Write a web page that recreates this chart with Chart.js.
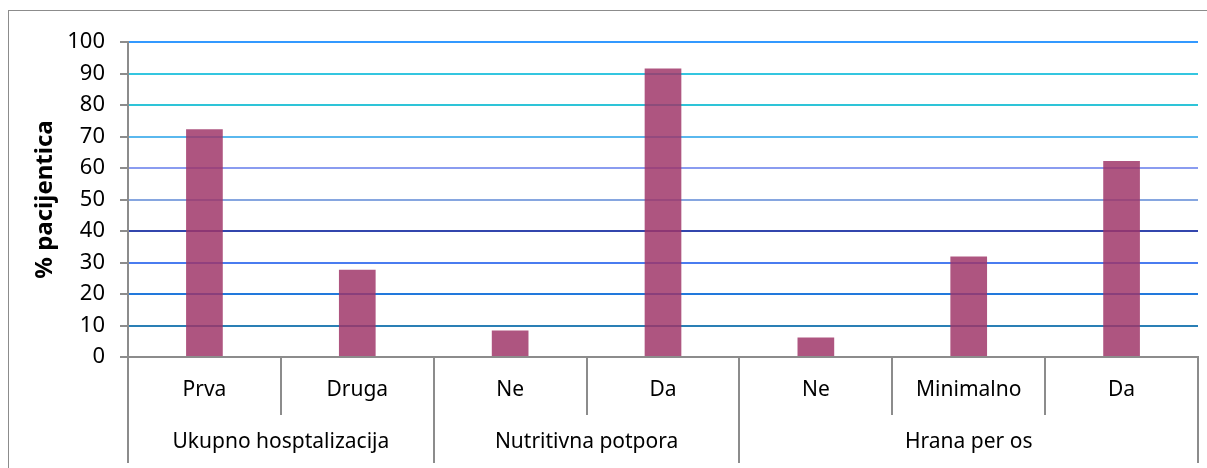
<!DOCTYPE html>
<html>
<head>
<meta charset="utf-8">
<script src="https://cdn.jsdelivr.net/npm/chart.js@4/dist/chart.umd.min.js"></script>
<style>
  html, body { margin: 0; padding: 0; background: #fff; overflow: hidden; }
  #wrap { position: relative; width: 1207px; height: 468px; }
  #frame { position: absolute; left: 8px; top: 10px; width: 1300px; height: 500px;
           border: 1px solid #8c8c8c; pointer-events: none; }
  canvas { position: absolute; left: 0; top: 0; }
</style>
</head>
<body>
<div id="wrap">
  <canvas id="chart" width="1207" height="468"></canvas>
  <div id="frame"></div>
</div>
<script>
const categories = ["Prva", "Druga", "Ne", "Da", "Ne", "Minimalno", "Da"];
const groups = ["Ukupno hosptalizacija", "Nutritivna potpora", "Hrana per os"];
const groupSizes = [2, 2, 3];
const values = [72.3, 27.7, 8.4, 91.6, 6.2, 31.9, 62.2];
const yTicks = [0, 10, 20, 30, 40, 50, 60, 70, 80, 90, 100];

const gridColors = {
  0: "#8c8c8c", 10: "#2a7fb5", 20: "#2279dc", 30: "#4a7cf0", 40: "#3346ad",
  50: "#86a6e0", 60: "#8a9cf0", 70: "#5ab8ee", 80: "#2ec4d8", 90: "#34c6e0", 100: "#3399ff"
};

const FONT = "'Noto Sans', sans-serif";

// draws category dividers and the group row under the x axis
const groupAxis = {
  id: "groupAxis",
  afterDraw(chart) {
    const x = chart.scales.x;
    const ctx = chart.ctx;
    const area = chart.chartArea;
    const step = x.getPixelForValue(1) - x.getPixelForValue(0);
    const edge = i => x.getPixelForValue(i) - step / 2;
    ctx.save();
    ctx.strokeStyle = "#8c8c8c";
    ctx.lineWidth = 2;
    const groupEdges = [0];
    groupSizes.forEach(n => groupEdges.push(groupEdges[groupEdges.length - 1] + n));
    for (let i = 0; i <= categories.length; i++) {
      const px = Math.round(edge(i));
      const bottom = groupEdges.includes(i) ? area.bottom + 106 : area.bottom + 58;
      ctx.beginPath();
      ctx.moveTo(px, area.bottom);
      ctx.lineTo(px, bottom);
      ctx.stroke();
    }
    ctx.fillStyle = "#000";
    ctx.font = "21px " + FONT;
    ctx.textAlign = "center";
    ctx.textBaseline = "middle";
    groups.forEach((g, i) => {
      const cx = (edge(groupEdges[i]) + edge(groupEdges[i + 1])) / 2;
      ctx.fillText(g, cx, area.bottom + 85);
    });
    ctx.restore();
  }
};

new Chart(document.getElementById("chart"), {
  type: "bar",
  data: {
    labels: categories,
    datasets: [{
      data: values,
      backgroundColor: "rgba(158,52,104,0.84)",
      borderWidth: 0,
      barPercentage: 0.48,
      categoryPercentage: 0.5
    }]
  },
  plugins: [groupAxis],
  options: {
    responsive: false,
    animation: false,
    layout: { padding: { top: 42, right: 9, left: 0, bottom: 0 } },
    plugins: { legend: { display: false }, tooltip: { enabled: false } },
    scales: {
      x: {
        grid: { display: true, drawOnChartArea: false, drawTicks: false },
        border: { color: "#8c8c8c", width: 2 },
        ticks: { color: "#000", font: { family: FONT, size: 21 }, padding: 20, maxRotation: 0 },
        afterFit(scale) { scale.height = 111; }
      },
      y: {
        min: 0, max: 100,
        afterBuildTicks(scale) { scale.ticks = yTicks.map(v => ({ value: v })); },
        grid: {
          color: ctx => gridColors[ctx.tick.value] || "#888",
          lineWidth: 2,
          tickColor: "#8c8c8c",
          tickLength: 8
        },
        border: { color: "#8c8c8c", width: 2 },
        ticks: { color: "#000", font: { family: FONT, size: 22 }, padding: 15 },
        title: {
          display: true, text: "% pacijentica", color: "#000",
          font: { family: FONT, size: 24, weight: "bold" }, padding: { top: 31, bottom: 0 }
        },
        afterFit(scale) { scale.width = 128; }
      }
    }
  }
});
</script>
</body>
</html>
